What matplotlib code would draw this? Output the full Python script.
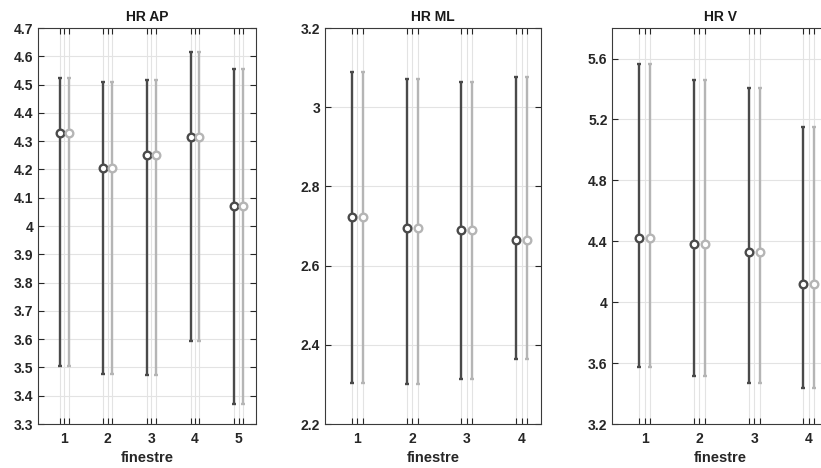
import numpy as np
import matplotlib
matplotlib.use('Agg')
import matplotlib.pyplot as plt

plt.rcParams['font.family'] = ['Liberation Sans', 'DejaVu Sans']
plt.rcParams['font.weight'] = 'bold'

# data (two series, same values)
titles = ['HR AP', 'HR ML', 'HR V']

ap_mean = [4.330, 4.207, 4.250, 4.315, 4.070]
ap_upper = [4.525, 4.510, 4.515, 4.615, 4.555]
ap_lower = [3.505, 3.478, 3.472, 3.592, 3.370]

ml_mean = [2.723, 2.696, 2.690, 2.665]
ml_upper = [3.090, 3.071, 3.063, 3.077]
ml_lower = [2.303, 2.300, 2.314, 2.363]

v_mean = [4.42, 4.38, 4.33, 4.12]
v_upper = [5.567, 5.456, 5.407, 5.150]
v_lower = [3.574, 3.512, 3.469, 3.435]

panels = [
    (ap_mean, ap_upper, ap_lower, (3.3, 4.7), np.arange(3.3, 4.71, 0.1), (0.4, 5.4)),
    (ml_mean, ml_upper, ml_lower, (2.2, 3.2), np.arange(2.2, 3.21, 0.2), (0.41, 4.35)),
    (v_mean, v_upper, v_lower, (3.2, 5.8), np.arange(3.2, 5.61, 0.4), (0.41, 4.35)),
]

positions = [
    [0.0463, 0.094, 0.2655, 0.846],
    [0.3959, 0.094, 0.2627, 0.846],
    [0.7458, 0.094, 0.2627, 0.846],
]

dark = '#4a4a4a'
light = '#b5b5b5'
offset = 0.1

fig = plt.figure(figsize=(8.21, 4.68), dpi=100)

for i, (mean, up, lo, ylim, yt, xlim) in enumerate(panels):
    ax = fig.add_axes(positions[i])
    mean = np.array(mean)
    up = np.array(up)
    lo = np.array(lo)
    x = np.arange(1, len(mean) + 1)
    err = [mean - lo, up - mean]

    ax.errorbar(x - offset, mean, yerr=err, fmt='o', color=dark, ecolor=dark,
                mfc='white', mec=dark, ms=5.5, mew=1.7, elinewidth=1.7,
                capsize=1.2, capthick=1.7, zorder=3)
    ax.errorbar(x + offset, mean, yerr=err, fmt='o', color=light, ecolor=light,
                mfc='white', mec=light, ms=5.5, mew=1.7, elinewidth=1.7,
                capsize=1.2, capthick=1.7, zorder=3)

    ax.set_xlim(*xlim)
    ax.set_ylim(*ylim)
    ax.set_xticks(x)
    ax.set_xticklabels([str(v) for v in x])
    ax.set_xticks(np.concatenate([x - offset, x + offset]), minor=True)
    ax.set_yticks(yt)
    ax.set_yticklabels(['%g' % round(v, 2) for v in yt])

    ax.grid(True, which='major', color='#e3e3e3', linewidth=0.8, zorder=0)
    ax.grid(True, which='minor', axis='x', color='#e3e3e3', linewidth=0.8, zorder=0)
    ax.set_axisbelow(True)

    ax.tick_params(which='both', direction='in', top=True, right=True,
                   length=4, width=0.8, color='#262626', labelsize=10,
                   labelcolor='#262626')
    ax.tick_params(axis='x', which='major', pad=6)
    for s in ax.spines.values():
        s.set_color('#3a3a3a')
        s.set_linewidth(0.8)

    ax.set_title(titles[i], fontsize=10, fontweight='bold', color='#1a1a1a', pad=5)
    ax.set_xlabel('finestre', fontsize=10.5, fontweight='bold', color='#262626', labelpad=3)

fig.savefig('out.png', dpi=100)
